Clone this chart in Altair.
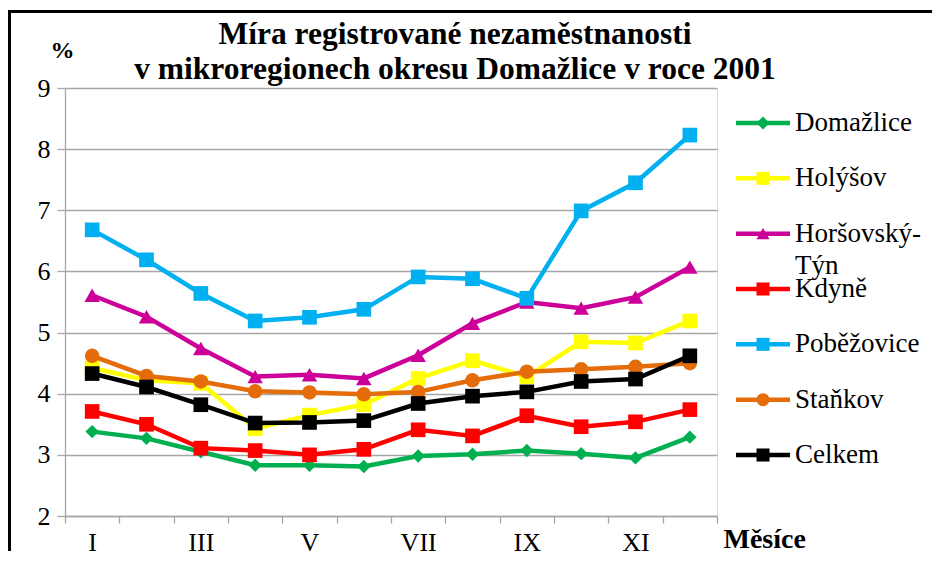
import altair as alt
import pandas as pd

months = ["I", "II", "III", "IV", "V", "VI", "VII", "VIII", "IX", "X", "XI", "XII"]
labeled_months = ["I", "III", "V", "VII", "IX", "XI"]

series_names = ["Domažlice", "Holýšov", "Horšovský-Týn", "Kdyně", "Poběžovice", "Staňkov", "Celkem"]

domazlice = [3.38, 3.27, 3.05, 2.83, 2.83, 2.81, 2.98, 3.01, 3.07, 3.02, 2.95, 3.29]
holysov = [4.42, 4.22, 4.17, 3.43, 3.65, 3.82, 4.25, 4.54, 4.28, 4.85, 4.83, 5.19]
horsovsky_tyn = [5.61, 5.26, 4.74, 4.28, 4.31, 4.25, 4.63, 5.15, 5.50, 5.40, 5.58, 6.07]
kdyne = [3.71, 3.50, 3.11, 3.07, 3.00, 3.09, 3.41, 3.31, 3.64, 3.46, 3.54, 3.74]
pobezovice = [6.68, 6.19, 5.64, 5.19, 5.25, 5.38, 5.91, 5.88, 5.56, 6.99, 7.45, 8.23]
stankov = [4.62, 4.29, 4.20, 4.04, 4.02, 3.99, 4.03, 4.22, 4.36, 4.40, 4.44, 4.50]
celkem = [4.33, 4.11, 3.82, 3.52, 3.53, 3.56, 3.84, 3.96, 4.03, 4.20, 4.24, 4.62]

series_values = [domazlice, holysov, horsovsky_tyn, kdyne, pobezovice, stankov, celkem]

colors = ["#00B050", "#FFFF00", "#CC0099", "#FF0000", "#00B0F0", "#E46C0A", "#000000"]
shapes = ["diamond", "square", "triangle-up", "square", "square", "circle", "square"]
sizes = [180, 215, 240, 215, 215, 210, 215]

title_text = ["Míra registrované nezaměstnanosti",
              "v mikroregionech okresu Domažlice v roce 2001"]

rows = []
for name, vals in zip(series_names, series_values):
    for m, v in zip(months, vals):
        rows.append({"series": name, "month": m, "value": v})
df = pd.DataFrame(rows)

legend_df = pd.DataFrame({
    "series": series_names,
    "order": list(range(len(series_names))),
    "label": [n.replace("-", "-\n") for n in series_names],
})

title_df = pd.DataFrame({"text": ["\n".join(title_text)]})

W, H = 652, 428
PAD = {"left": 57, "top": 80, "right": 215, "bottom": 35}
SERIF = "Liberation Serif, Times New Roman, DejaVu Serif, serif"
GRID = "#A6A6A6"

labels_js = "[" + ",".join("'%s'" % m for m in labeled_months) + "]"

x_enc = alt.X(
    "month:O", sort=months,
    scale=alt.Scale(type="band", domain=months, paddingInner=0, paddingOuter=0),
    axis=alt.Axis(
        title="Měsíce", titleFont=SERIF, titleFontSize=28, titleFontWeight="bold",
        titleColor="black", titleX=658, titleY=23, titleAlign="left",
        titleBaseline="middle", titleAngle=0,
        labelExpr="indexof(" + labels_js + ", datum.value) >= 0 ? datum.value : ''",
        labelAngle=0, labelFont=SERIF, labelFontSize=26, labelColor="black",
        labelPadding=6, tickBand="extent", tickSize=7, tickColor=GRID, tickWidth=1.3,
        domainColor=GRID, domainWidth=1.3, grid=False,
    ),
)

y_enc = alt.Y(
    "value:Q",
    scale=alt.Scale(domain=[2, 9], nice=False, zero=False),
    axis=alt.Axis(
        values=[2, 3, 4, 5, 6, 7, 8, 9], format="d",
        title="%", titleFont=SERIF, titleFontSize=24, titleFontWeight="bold",
        titleColor="black", titleAngle=0, titleX=-3, titleY=-38,
        titleAlign="center", titleBaseline="middle",
        labelFont=SERIF, labelFontSize=26, labelColor="black", labelPadding=7,
        tickSize=8, tickColor=GRID, tickWidth=1.3,
        domainColor=GRID, domainWidth=1.3,
        grid=True, gridColor=GRID, gridWidth=1.3,
    ),
)

base = alt.Chart(df)
series_layers = []
for name, col, shp, sz in zip(series_names, colors, shapes, sizes):
    sub = base.transform_filter(alt.datum.series == name)
    series_layers.append(
        sub.mark_line(color=col, strokeWidth=4.5).encode(x=x_enc, y=y_enc)
    )
    series_layers.append(
        sub.mark_point(shape=shp, size=sz, filled=True, color=col, opacity=1).encode(x=x_enc, y=y_enc)
    )
main = alt.layer(*series_layers)

ly = alt.Y("order:Q", scale=alt.Scale(domain=[0, 6], range=[35, 367]), axis=None)
lcolor = alt.Color("series:N", scale=alt.Scale(domain=series_names, range=colors), legend=None)
lshape = alt.Shape("series:N", scale=alt.Scale(domain=series_names, range=shapes), legend=None)

lbase = alt.Chart(legend_df)
leg_rule = lbase.mark_rule(strokeWidth=4.5).encode(
    x=alt.value(671), x2=alt.value(725), y=ly, color=lcolor)
leg_pt = lbase.mark_point(filled=True, size=170, opacity=1).encode(
    x=alt.value(698), y=ly, color=lcolor, shape=lshape)
leg_txt = lbase.mark_text(
    align="left", baseline="top", dy=-13, font=SERIF, fontSize=27,
    lineBreak="\n", lineHeight=32, color="black",
).encode(x=alt.value(730), y=ly, text="label:N")
legend = alt.layer(leg_rule, leg_pt, leg_txt)

title = alt.Chart(title_df).mark_text(
    align="center", baseline="alphabetic", font=SERIF, fontSize=31.5,
    fontWeight="bold", lineBreak="\n", lineHeight=35, color="black",
).encode(x=alt.value(390), y=alt.value(-44), text="text:N")

# frame lines kept inside the canvas (so nothing overflows the page)
right_edge = W + PAD["right"]
bottom_edge = H + PAD["bottom"]
one = pd.DataFrame({"f": [0]})
frame_left = alt.Chart(one).mark_rule(color="black", strokeWidth=3).encode(
    x=alt.value(-55.5), y=alt.value(-78), y2=alt.value(bottom_edge))
frame_top = alt.Chart(one).mark_rule(color="black", strokeWidth=3).encode(
    x=alt.value(-57), x2=alt.value(right_edge), y=alt.value(-76.5))

chart = alt.layer(frame_left, frame_top, title, main, legend).resolve_scale(
    y="independent", color="independent", shape="independent"
).properties(
    width=W, height=H,
    autosize=alt.AutoSizeParams(type="none"),
    padding=PAD,
).configure_view(stroke="transparent").configure(background="white")

chart.save("out.html", embed_options={"renderer": "svg", "actions": False})
